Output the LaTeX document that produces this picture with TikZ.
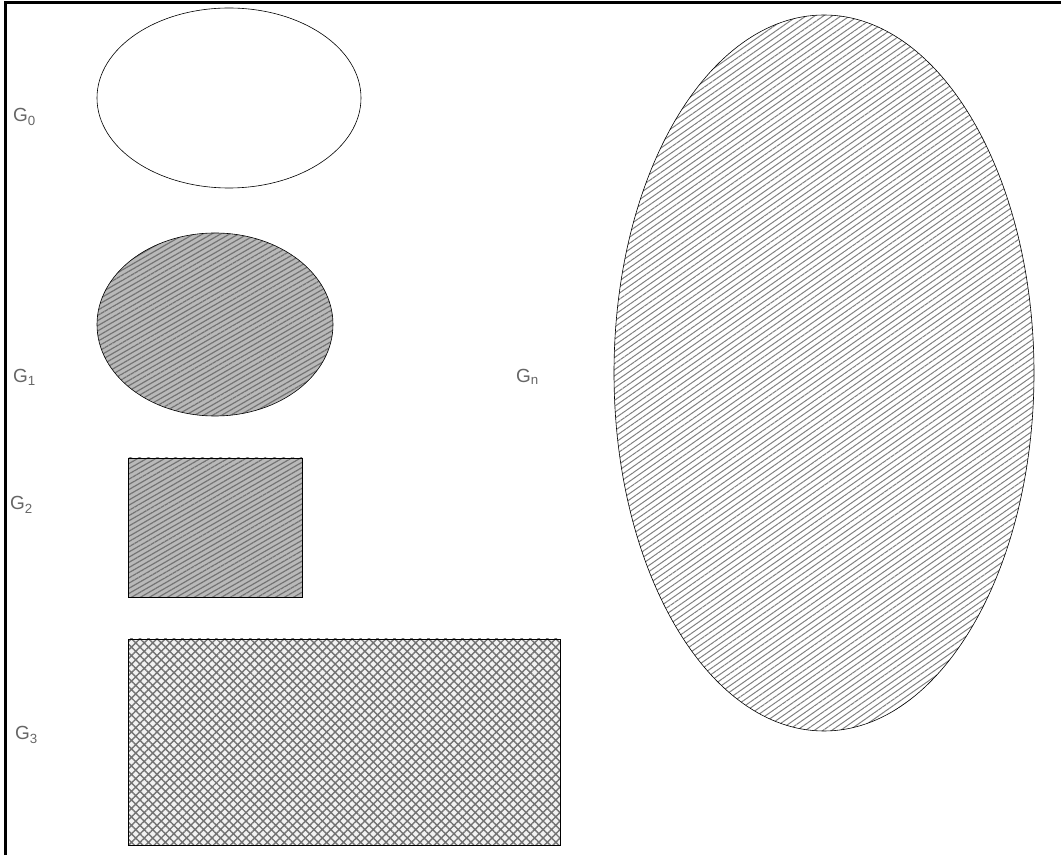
\documentclass[tikz,border=0pt]{standalone}
\usepackage{fontspec}
\setsansfont{Liberation Sans}
\usetikzlibrary{patterns.meta}
\tikzset{
  lbl/.style={text=black!60, font=\sffamily\fontsize{19}{21}\selectfont, inner sep=0pt, anchor=west},
  outline/.style={draw=black, line width=0.6pt},
}
\begin{document}
\begin{tikzpicture}[x=1pt, y=1pt]
		\useasboundingbox (0,0) rectangle (1061,855);
		% Rahmen
		\draw[line width=2.5pt] (5.5,0) -- (5.5,852.5) -- (1061,852.5);
		
		% G_0 leer
		\draw[outline, fill=white] (229,757) ellipse (132 and 90);
		% G_1 und G_2 dicht schraffiert
		\fill[gray!55] (215,530.5) ellipse (118 and 91.5);
		\draw[outline, pattern={Lines[angle=30, distance=4.5pt, line width=1.2pt]}, pattern color=black!55] (215,530.5) ellipse (118 and 91.5);
		\fill[gray!55] (128,258) rectangle (302,397);
		\draw[line width=0.4pt, pattern={Lines[angle=30, distance=4.5pt, line width=1.2pt]}, pattern color=black!55] (128,258) rectangle (302,397);
		% G_3 kreuzschraffiert
		\fill[gray!10] (128,10) rectangle (560,216);
		\draw[line width=0.4pt, pattern={Hatch[angle=45, distance=6pt, line width=1.4pt]}, pattern color=black!55] (128,10) rectangle (560,216);
		% G_n
		\draw[outline, pattern={Lines[angle=35, distance=5pt, line width=1pt]}, pattern color=black!50] (824,482) ellipse (210 and 358);
		
		\node[lbl] (g0) at (13,738) {G\textsubscript{0}};
		\node[lbl] (g1) at (13,478) {G\textsubscript{1}};
		\node[lbl] (g2) at (10,350) {G\textsubscript{2}};
		\node[lbl] (g3) at (15,120) {G\textsubscript{3}};
		\node[lbl] (gn) at (516,478) {G\textsubscript{n}};
\end{tikzpicture}
\end{document}
